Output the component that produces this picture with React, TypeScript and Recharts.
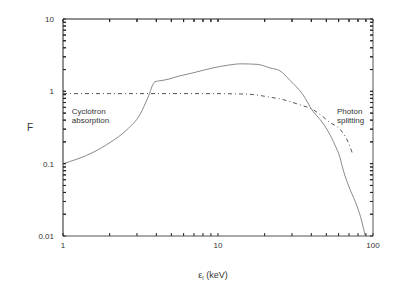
import React from 'react';
import { LineChart, Line, XAxis, YAxis, ReferenceDot, ReferenceLine } from 'recharts';

const solidX = [1, 1.56, 2.01, 2.59, 3.14, 3.53, 3.92, 4.22, 4.9, 5.13, 6.9, 9.29, 11.9, 13.9, 17.9, 21.6, 25.1, 29.1, 35.3, 41.0, 45.5, 51.3, 56.9, 61.2, 64.0, 71.1, 78.8, 84.9, 88.8];
const solidF = [0.1, 0.143, 0.196, 0.296, 0.48, 0.82, 1.36, 1.40, 1.49, 1.54, 1.80, 2.11, 2.32, 2.40, 2.36, 2.11, 1.92, 1.42, 0.90, 0.53, 0.41, 0.28, 0.18, 0.122, 0.084, 0.044, 0.026, 0.0156, 0.0103];

const splitX = [1, 2, 4, 8, 14, 17, 21.6, 25.5, 33.8, 41.0, 45.5, 52.8, 61.2, 69.0, 73.3];
const splitF = [0.93, 0.93, 0.93, 0.93, 0.92, 0.90, 0.83, 0.78, 0.65, 0.56, 0.48, 0.37, 0.30, 0.20, 0.143];

const xMajor = [1, 10, 100];
const xMajorLabels = ['1', '10', '100'];
const xMinor = [2, 3, 4, 5, 6, 7, 8, 9, 20, 30, 40, 50, 60, 70, 80, 90];
const yMajor = [0.01, 0.1, 1, 10];
const yMajorLabels = ['0.01', '0.1', '1', '10'];
const yMinor = [0.02, 0.03, 0.04, 0.05, 0.06, 0.07, 0.08, 0.09, 0.2, 0.3, 0.4, 0.5, 0.6, 0.7, 0.8, 0.9, 2, 3, 4, 5, 6, 7, 8, 9];

const X_DOMAIN: [number, number] = [1, 100];
const Y_DOMAIN: [number, number] = [0.01, 10];

const solidData = solidX.map((x, i) => ({ x, F: solidF[i] }));
const splitData = splitX.map((x, i) => ({ x, F: splitF[i] }));
const xTicks = [...xMajor, ...xMinor].sort((a, b) => a - b);
const yTicks = [...yMajor, ...yMinor].sort((a, b) => a - b);

const FONT = '"Liberation Sans", Arial, sans-serif';
const TXT = '#333';
const TICK = '#222';
const TS = -3;

// tick length as a multiplicative step on the log axes (~3 px)
const Y_STEP = 1.1;
const X_STEP = 1.046;

const findIdx = (arr: number[], v: number) => arr.findIndex((m) => Math.abs(m - v) < 1e-9);

const XLabelTick = (props: any) => {
  const { x, y, payload } = props;
  const idx = findIdx(xMajor, payload.value);
  if (idx < 0) return <g />;
  return (
    <text x={x} y={y + 15} textAnchor="middle" fontSize={8} fontFamily={FONT} fill={TXT}>
      {xMajorLabels[idx]}
    </text>
  );
};

const YLabelTick = (props: any) => {
  const { x, y, payload } = props;
  const idx = findIdx(yMajor, payload.value);
  if (idx < 0) return <g />;
  return (
    <text x={x - 12} y={y + 3} textAnchor="end" fontSize={8} fontFamily={FONT} fill={TXT}>
      {yMajorLabels[idx]}
    </text>
  );
};

const EmptyTick = () => <g />;

const TwoLine = (lines: string[]) => (props: any) => {
  const { cx, cy } = props;
  return (
    <text x={cx} y={cy} fontSize={8} fontFamily={FONT} fill={TXT}>
      <tspan x={cx} dy={0}>{lines[0]}</tspan>
      <tspan x={cx} dy={9}>{lines[1]}</tspan>
    </text>
  );
};

const XTitle = (props: any) => {
  const vb = props.viewBox;
  const cx = vb.x + vb.width / 2 - 5;
  const y = vb.y + 42;
  return (
    <text x={cx} y={y} textAnchor="middle" fontSize={9} fontFamily={FONT} fill={TXT}>
      ε<tspan fontSize={6} dy={2}>l</tspan>
      <tspan dy={-2}> (keV)</tspan>
    </text>
  );
};

const tickLineStyle = { stroke: TICK, strokeWidth: 1 };

export default function App() {
  const inner = xTicks.filter((v) => v > X_DOMAIN[0] && v < X_DOMAIN[1]);
  const innerY = yTicks.filter((v) => v > Y_DOMAIN[0] && v < Y_DOMAIN[1]);
  return (
    <div style={{ position: 'absolute', left: 0, top: 0, background: '#fff' }}>
      <LineChart width={415} height={294} margin={{ top: 11, right: 34, bottom: 50, left: 55 }}>
        <XAxis
          type="number"
          dataKey="x"
          scale="log"
          domain={X_DOMAIN}
          allowDataOverflow
          ticks={xTicks}
          interval={0}
          height={8}
          tickSize={TS}
          tickMargin={0}
          tickLine={tickLineStyle}
          axisLine={{ stroke: '#555' }}
          tick={XLabelTick}
          label={<XTitle />}
        />
        <XAxis
          xAxisId="top"
          orientation="top"
          type="number"
          dataKey="x"
          scale="log"
          domain={X_DOMAIN}
          allowDataOverflow
          ticks={xTicks}
          interval={0}
          height={8}
          tickSize={TS}
          tickMargin={0}
          tickLine={tickLineStyle}
          axisLine={{ stroke: '#222' }}
          tick={EmptyTick}
        />
        <YAxis
          type="number"
          scale="log"
          domain={Y_DOMAIN}
          allowDataOverflow
          ticks={yTicks}
          interval={0}
          width={8}
          tickSize={TS}
          tickMargin={0}
          tickLine={tickLineStyle}
          axisLine={{ stroke: '#222' }}
          tick={YLabelTick}
          label={{ value: 'F', position: 'left', offset: 22, fontSize: 10, fontFamily: FONT, fill: TXT }}
        />
        <YAxis
          yAxisId="right"
          orientation="right"
          type="number"
          scale="log"
          domain={Y_DOMAIN}
          allowDataOverflow
          ticks={yTicks}
          interval={0}
          width={8}
          tickSize={TS}
          tickMargin={0}
          tickLine={tickLineStyle}
          axisLine={{ stroke: '#555' }}
          tick={EmptyTick}
        />
        {inner.map((v) => (
          <ReferenceLine
            key={'t' + v}
            segment={[{ x: v, y: Y_DOMAIN[1] }, { x: v, y: Y_DOMAIN[1] / Y_STEP }]}
            stroke={TICK}
            strokeWidth={1}
            ifOverflow="visible"
          />
        ))}
        {innerY.map((v) => (
          <ReferenceLine
            key={'l' + v}
            segment={[{ x: X_DOMAIN[0], y: v }, { x: X_DOMAIN[0] * X_STEP, y: v }]}
            stroke={TICK}
            strokeWidth={1}
            ifOverflow="visible"
          />
        ))}
        {innerY.map((v) => (
          <ReferenceLine
            key={'r' + v}
            segment={[{ x: X_DOMAIN[1], y: v }, { x: X_DOMAIN[1] / X_STEP, y: v }]}
            stroke={TICK}
            strokeWidth={1}
            ifOverflow="visible"
          />
        ))}
        <Line
          data={splitData}
          dataKey="F"
          type="monotone"
          stroke="#555"
          strokeWidth={1}
          strokeDasharray="4 3 1 3"
          dot={false}
          isAnimationActive={false}
        />
        <Line
          data={solidData}
          dataKey="F"
          type="monotone"
          stroke="#8a8a8a"
          strokeWidth={1}
          dot={false}
          isAnimationActive={false}
        />
        <ReferenceDot x={1.14} y={0.48} r={0} shape={TwoLine(['Cyclotron', 'absorption'])} />
        <ReferenceDot x={58.6} y={0.48} r={0} shape={TwoLine(['Photon', 'splitting'])} />
      </LineChart>
    </div>
  );
}
